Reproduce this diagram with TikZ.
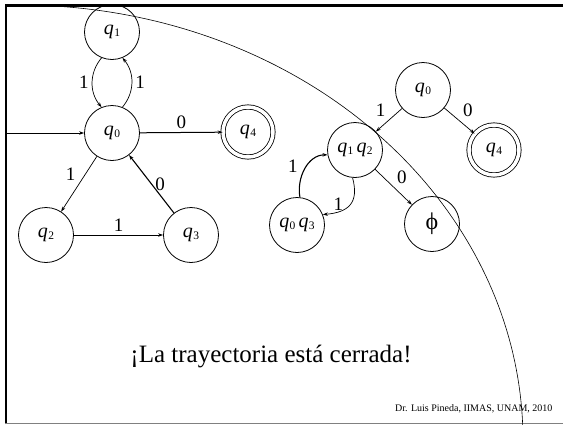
\documentclass[tikz,border=0pt]{standalone}
\usepackage{fontspec}
\setmainfont{Liberation Serif}
\usetikzlibrary{arrows.meta}
\usetikzlibrary{positioning}
\newcommand{\qsub}[1]{\textit{q}\kern0.3pt\raisebox{-0.25ex}{\fontsize{11.5}{11.5}\selectfont #1}}

\begin{document}
\begin{tikzpicture}[x=1pt, y=1pt,
		state/.style={circle, draw, line width=0.8pt, minimum size=55pt, inner sep=0pt, font=\fontsize{20}{20}\selectfont},
		final/.style={circle, draw, line width=0.8pt, double, double distance=3.5pt, minimum size=50pt, inner sep=0pt, font=\fontsize{20}{20}\selectfont},
		every edge/.style={draw, line width=0.7pt, -{Stealth[length=5pt, width=3.5pt]}},
		lbl/.style={font=\fontsize{19}{19}\selectfont}]
		\useasboundingbox (0,0) rectangle (563,-424);
		\draw[line width=2.3pt] (5.8,-424) -- (5.8,-5.5) -- (563,-5.5);
		\draw[gray, line width=1pt] (5,-423) -- (563,-423);
		\draw[line width=0.6pt] plot[domain=2:86, samples=80] ({20+503*cos(\x)}, {-440+435*sin(\x)});
		\begin{scope}
			\node[state] (q1) at (112,-32) {\qsub{1}};
			\node[state] (q0) at (112,-133) {\qsub{0}};
			\node[final] (q4) at (248,-132) {\qsub{4}};
			\node[state] (q2) at (46,-235) {\qsub{2}};
			\node[state] (q3) at (191,-235) {\qsub{3}};
			\coordinate (start) at (5,-133);
			\draw (start) edge (q0);
			\draw (q1.-112) edge[bend right=40] node[lbl, left] {1} (q0.112);
			\draw (q0.68) edge[bend right=40] node[lbl, right] {1} (q1.-68);
			\draw (q0) edge[line width=1pt] node[lbl, above] {0} (q4);
			\draw (q0) edge node[lbl, above left] {1} (q2);
			\draw (q2) edge node[lbl, above] {1} (q3);
			\draw (q3) edge[line width=1.1pt] node[lbl, right] {0} (q0);
		\end{scope}
		\begin{scope}
			\node[state] (r0) at (423,-90) {\qsub{0}};
			\node[state] (r12) at (355,-150) {\qsub{1}\,\qsub{2}};
			\node[final] (r4) at (494,-150) {\qsub{4}};
			\node[state] (r03) at (297,-225) {\qsub{0}\,\qsub{3}};
			\node[state, font=\fontsize{24}{24}\selectfont] (rphi) at (432,-224) {ϕ};
			\draw (r0) edge node[lbl, above left] {1} (r12);
			\draw (r0) edge node[lbl, above right] {0} (r4);
			\draw (r12) edge node[lbl, above right] {0} (rphi);
			\draw (r03.84) edge[line width=1.1pt, out=100, in=180] node[lbl, pos=0.35, above left] {1} (r12.190);
			\draw (r12.-95) edge[out=-75, in=5, looseness=1.4] node[lbl, pos=0.5, left=3pt] {1} (r03.22);
		\end{scope}
		\node[font=\fontsize{25}{25}\selectfont] (title) at (271,-357) {¡La trayectoria está cerrada!};
		\node[font=\fontsize{10}{10}\selectfont, anchor=east] (credit) at (556,-409) {Dr. Luis Pineda, IIMAS, UNAM, 2010};
	\end{tikzpicture}
\end{document}
